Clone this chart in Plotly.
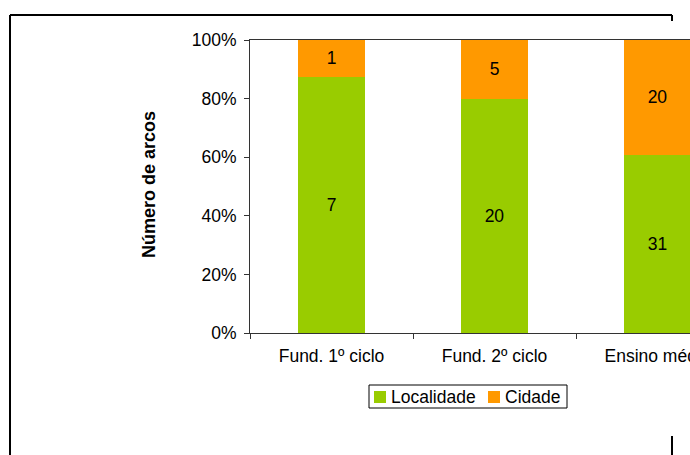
import plotly.graph_objects as go

# Number of arcs by school level, split by origin
niveis = ["Fund. 1º ciclo", "Fund. 2º ciclo", "Ensino médio"]
localidade = [7, 20, 31]
cidade = [1, 5, 20]
y_ticks = [0, 20, 40, 60, 80, 100]
y_labels = ["0%", "20%", "40%", "60%", "80%", "100%"]

GREEN, ORANGE = "#99CC00", "#FF9900"
FONT = "Liberation Sans, Arial, sans-serif"
FS = 17.5
W, H = 690, 455
L, R, T, B = 250, 0, 40, 122
PW, PH = W - L - R, H - T - B


def px(x):
    return (x - L) / PW


def py(y):
    return (H - B - y) / PH


fig = go.Figure()
fig.add_trace(go.Bar(
    x=niveis, y=localidade, name="Localidade",
    marker=dict(color=GREEN, line=dict(width=0)),
    text=localidade, textposition="inside", insidetextanchor="middle",
    textfont=dict(family=FONT, size=FS, color="black"),
    constraintext="none",
))
fig.add_trace(go.Bar(
    x=niveis, y=cidade, name="Cidade",
    marker=dict(color=ORANGE, line=dict(width=0)),
    text=cidade, textposition="inside", insidetextanchor="middle",
    textfont=dict(family=FONT, size=FS, color="black"),
    constraintext="none",
))

# Outer frame fragments around the chart
frame = dict(type="line", xref="paper", yref="paper", line=dict(color="black", width=2))
shapes = [
    dict(frame, x0=px(10), x1=px(672), y0=py(15), y1=py(15)),
    dict(frame, x0=px(672), x1=px(672), y0=py(15), y1=py(21)),
    dict(frame, x0=px(10), x1=px(10), y0=py(15), y1=py(455)),
    dict(frame, x0=px(672), x1=px(672), y0=py(436), y1=py(455)),
]

# Compact legend box below the axis
box = dict(type="rect", xref="paper", yref="paper")
shapes += [
    dict(box, x0=px(369), x1=px(567), y0=py(408), y1=py(385),
         line=dict(color="black", width=1), fillcolor="white", layer="above"),
    dict(box, x0=px(374), x1=px(386), y0=py(403), y1=py(391),
         line=dict(width=0), fillcolor=GREEN, layer="above"),
    dict(box, x0=px(488), x1=px(500), y0=py(403), y1=py(391),
         line=dict(width=0), fillcolor=ORANGE, layer="above"),
]

annotations = [
    dict(text="<b>Número de arcos</b>", xref="paper", yref="paper",
         x=px(149), y=py(185), xanchor="center", yanchor="middle",
         textangle=-90, showarrow=False,
         font=dict(family=FONT, size=18, color="black")),
    dict(text="Localidade", xref="paper", yref="paper", x=px(389), y=py(397),
         xanchor="left", yanchor="middle", showarrow=False,
         font=dict(family=FONT, size=FS, color="black")),
    dict(text="Cidade", xref="paper", yref="paper", x=px(503), y=py(397),
         xanchor="left", yanchor="middle", showarrow=False,
         font=dict(family=FONT, size=FS, color="black")),
]

fig.update_layout(
    width=W, height=H,
    margin=dict(l=L, r=R, t=T, b=B, autoexpand=False),
    paper_bgcolor="white", plot_bgcolor="white",
    barmode="stack", barnorm="percent",
    bargap=0.595,
    font=dict(family=FONT, size=FS, color="black"),
    showlegend=False,
    xaxis=dict(
        range=[-0.5, -0.5 + PW / 163], automargin=False,
        showline=True, linecolor="#333333", linewidth=1, mirror=True,
        ticks="outside", ticklen=5, tickcolor="#333333", tickson="boundaries",
        ticklabelstandoff=7,
        showgrid=False, zeroline=False,
        tickfont=dict(family=FONT, size=FS, color="black"),
    ),
    yaxis=dict(
        range=[0, 100], tickvals=y_ticks, ticktext=y_labels, automargin=False,
        showline=True, linecolor="#333333", linewidth=1,
        ticks="outside", ticklen=5, tickcolor="#333333",
        ticklabelstandoff=4,
        showgrid=False, zeroline=False,
        tickfont=dict(family=FONT, size=FS, color="black"),
    ),
    annotations=annotations,
    shapes=shapes,
)

fig.write_html("out.html")
